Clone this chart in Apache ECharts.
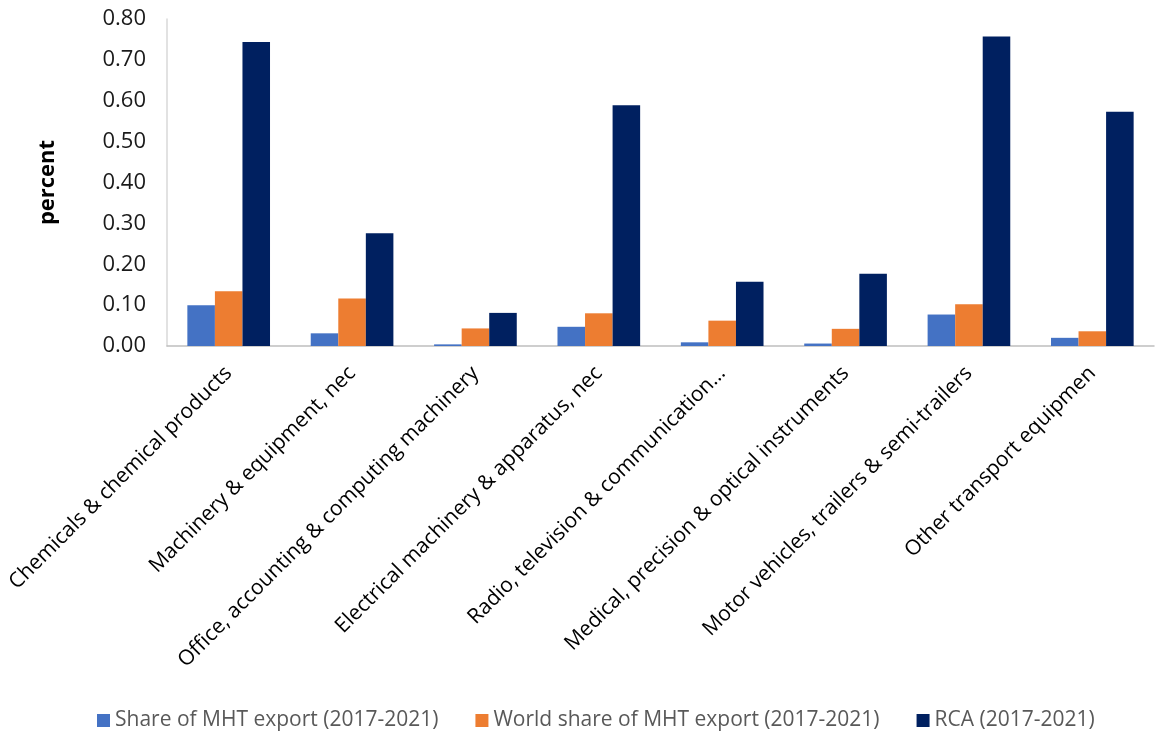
<!DOCTYPE html>
<html>
<head>
<meta charset="utf-8">
<script src="https://cdn.jsdelivr.net/npm/echarts@6/dist/echarts.min.js"></script>
<style>
  html, body { margin: 0; padding: 0; background: #ffffff; }
  #chart { width: 1155px; height: 732px; }
</style>
</head>
<body>
<div id="chart"></div>
<script>
// Manufacturing sectors (medium/high-tech), averages over 2017-2021
const categories = [
  'Chemicals & chemical products',
  'Machinery & equipment, nec',
  'Office, accounting & computing machinery',
  'Electrical machinery & apparatus, nec',
  'Radio, television & communication…',
  'Medical, precision & optical instruments',
  'Motor vehicles, trailers & semi-trailers',
  'Other transport equipmen'
];
const seriesNames = [
  'Share of MHT export (2017-2021)',
  'World share of MHT export (2017-2021)',
  'RCA (2017-2021)'
];
const shareMHT = [0.100, 0.031, 0.004, 0.047, 0.009, 0.006, 0.077, 0.020];
const worldShareMHT = [0.134, 0.116, 0.043, 0.080, 0.062, 0.042, 0.102, 0.036];
const rca = [0.744, 0.276, 0.081, 0.589, 0.157, 0.177, 0.757, 0.573];
const yTicks = { min: 0, max: 0.8, interval: 0.1 };

const colors = ['#4472C4', '#ED7D31', '#002060'];
const font = '"Open Sans", "Noto Sans", sans-serif';

const chart = echarts.init(document.getElementById('chart'), null, { renderer: 'canvas' });
chart.setOption({
  animation: false,
  backgroundColor: '#ffffff',
  color: colors,
  grid: { left: 167, right: 1, top: 19, bottom: 386, containLabel: false },
  legend: {
    left: 92,
    top: 705,
    itemWidth: 13,
    itemHeight: 13,
    itemGap: 37,
    icon: 'rect',
    textStyle: { fontFamily: font, fontSize: 21, color: '#595959' },
    data: seriesNames
  },
  xAxis: {
    type: 'category',
    data: categories,
    axisLine: { lineStyle: { color: '#BFBFBF', width: 1.5 } },
    axisTick: { show: false },
    axisLabel: {
      rotate: 45,
      interval: 0,
      margin: 24,
      fontFamily: font,
      fontSize: 21,
      color: '#000000'
    }
  },
  yAxis: {
    type: 'value',
    min: yTicks.min,
    max: yTicks.max,
    interval: yTicks.interval,
    name: 'percent',
    nameLocation: 'middle',
    nameGap: 108,
    nameRotate: 90,
    nameTextStyle: { fontFamily: font, fontSize: 22, fontWeight: 'bold', color: '#000000' },
    axisLine: { show: true, lineStyle: { color: '#D9D9D9', width: 1.5 } },
    axisTick: { show: false },
    splitLine: { show: false },
    axisLabel: {
      margin: 21,
      fontFamily: font,
      fontSize: 22,
      color: '#1a1a1a',
      formatter: v => v.toFixed(2)
    }
  },
  series: [
    { name: seriesNames[0], type: 'bar', data: shareMHT, barGap: '0%', barCategoryGap: '33%' },
    { name: seriesNames[1], type: 'bar', data: worldShareMHT, barGap: '0%', barCategoryGap: '33%' },
    { name: seriesNames[2], type: 'bar', data: rca, barGap: '0%', barCategoryGap: '33%' }
  ]
});
</script>
</body>
</html>
